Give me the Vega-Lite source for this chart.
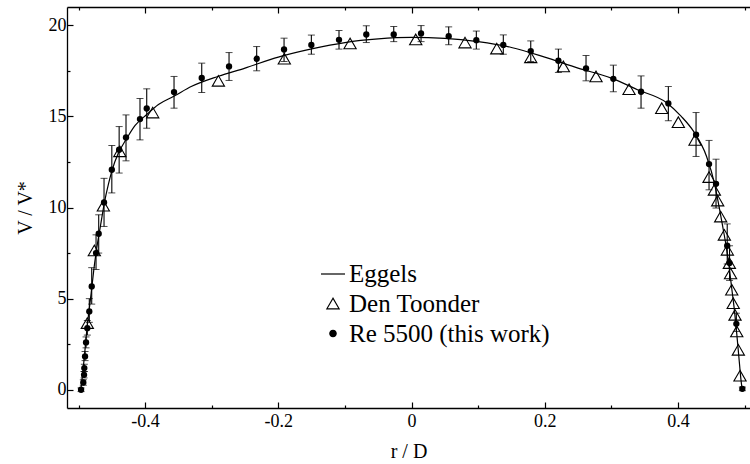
{
  "$schema": "https://vega.github.io/schema/vega-lite/v6.json",
  "width": 683,
  "height": 401,
  "autosize": {"type": "none"},
  "padding": {"left": 67, "top": 7, "right": 0, "bottom": 56},
  "background": "white",
  "config": {
    "view": {"stroke": null},
    "font": "Liberation Serif",
    "axis": {
      "grid": false,
      "domainColor": "black",
      "domainWidth": 1.3,
      "tickColor": "black",
      "tickWidth": 1.2,
      "labelFont": "Liberation Serif",
      "labelFontSize": 18,
      "labelColor": "black",
      "titleFont": "Liberation Serif",
      "titleFontSize": 20,
      "titleFontWeight": "normal",
      "titleColor": "black",
      "labelFlush": false,
      "labelOverlap": false
    }
  },
  "datasets": {
    "eggels": [
      {"r": -0.4965, "v": 0}, {"r": -0.494, "v": 0.8}, {"r": -0.491, "v": 1.9}, {"r": -0.488, "v": 3.1},
      {"r": -0.485, "v": 4.1}, {"r": -0.481, "v": 5.3}, {"r": -0.477, "v": 6.6}, {"r": -0.4725, "v": 7.8},
      {"r": -0.467, "v": 9.0}, {"r": -0.461, "v": 10.3}, {"r": -0.455, "v": 11.3}, {"r": -0.45, "v": 12.0},
      {"r": -0.44, "v": 13.0}, {"r": -0.429, "v": 13.7}, {"r": -0.415, "v": 14.5}, {"r": -0.3976, "v": 15.1},
      {"r": -0.38, "v": 15.65}, {"r": -0.357, "v": 16.1}, {"r": -0.33, "v": 16.65}, {"r": -0.29, "v": 17.2},
      {"r": -0.25, "v": 17.65}, {"r": -0.2, "v": 18.25}, {"r": -0.15, "v": 18.7}, {"r": -0.1, "v": 19.05},
      {"r": -0.05, "v": 19.25}, {"r": 0, "v": 19.33}, {"r": 0.05, "v": 19.28}, {"r": 0.1, "v": 19.1},
      {"r": 0.15, "v": 18.78}, {"r": 0.2, "v": 18.25}, {"r": 0.25, "v": 17.65}, {"r": 0.3, "v": 17.1},
      {"r": 0.34, "v": 16.45}, {"r": 0.383, "v": 15.75}, {"r": 0.405, "v": 15.0}, {"r": 0.423, "v": 14.2},
      {"r": 0.443, "v": 12.8}, {"r": 0.455, "v": 11.3}, {"r": 0.4615, "v": 10.1}, {"r": 0.467, "v": 9.0},
      {"r": 0.4725, "v": 7.85}, {"r": 0.477, "v": 6.7}, {"r": 0.481, "v": 5.5}, {"r": 0.485, "v": 4.3},
      {"r": 0.4885, "v": 3.0}, {"r": 0.4915, "v": 1.8}, {"r": 0.4945, "v": 0.6}, {"r": 0.4965, "v": 0}
    ],
    "toonder": [
      {"series": "Den Toonder", "r": -0.4868, "v": 3.66}, {"series": "Den Toonder", "r": -0.4763, "v": 7.64},
      {"series": "Den Toonder", "r": -0.4627, "v": 10.1}, {"series": "Den Toonder", "r": -0.438, "v": 13.08},
      {"series": "Den Toonder", "r": -0.3886, "v": 15.21}, {"series": "Den Toonder", "r": -0.29, "v": 16.95},
      {"series": "Den Toonder", "r": -0.191, "v": 18.16}, {"series": "Den Toonder", "r": -0.0923, "v": 19.0},
      {"series": "Den Toonder", "r": 0.0063, "v": 19.22}, {"series": "Den Toonder", "r": 0.0803, "v": 19.05},
      {"series": "Den Toonder", "r": 0.128, "v": 18.72}, {"series": "Den Toonder", "r": 0.179, "v": 18.24},
      {"series": "Den Toonder", "r": 0.228, "v": 17.74}, {"series": "Den Toonder", "r": 0.277, "v": 17.19},
      {"series": "Den Toonder", "r": 0.3266, "v": 16.49}, {"series": "Den Toonder", "r": 0.3757, "v": 15.45},
      {"series": "Den Toonder", "r": 0.4006, "v": 14.68}, {"series": "Den Toonder", "r": 0.4257, "v": 13.71},
      {"series": "Den Toonder", "r": 0.4467, "v": 11.67}, {"series": "Den Toonder", "r": 0.4547, "v": 10.97},
      {"series": "Den Toonder", "r": 0.4597, "v": 10.38}, {"series": "Den Toonder", "r": 0.4642, "v": 9.5},
      {"series": "Den Toonder", "r": 0.4697, "v": 8.5}, {"series": "Den Toonder", "r": 0.4742, "v": 7.68},
      {"series": "Den Toonder", "r": 0.4772, "v": 6.95}, {"series": "Den Toonder", "r": 0.479, "v": 6.38},
      {"series": "Den Toonder", "r": 0.4808, "v": 5.49}, {"series": "Den Toonder", "r": 0.483, "v": 4.75},
      {"series": "Den Toonder", "r": 0.4857, "v": 4.11}, {"series": "Den Toonder", "r": 0.4883, "v": 3.2},
      {"series": "Den Toonder", "r": 0.4907, "v": 2.19}, {"series": "Den Toonder", "r": 0.4932, "v": 0.77}
    ],
    "re5500": [
      {"series": "Re 5500 (this work)", "r": -0.4962, "v": 0.0, "lo": -0.1, "hi": 0.1},
      {"series": "Re 5500 (this work)", "r": -0.4928, "v": 0.4, "lo": 0.25, "hi": 0.55},
      {"series": "Re 5500 (this work)", "r": -0.4917, "v": 0.82, "lo": 0.65, "hi": 1.0},
      {"series": "Re 5500 (this work)", "r": -0.4913, "v": 1.19, "lo": 1.0, "hi": 1.4},
      {"series": "Re 5500 (this work)", "r": -0.4902, "v": 1.83, "lo": 1.6, "hi": 2.1},
      {"series": "Re 5500 (this work)", "r": -0.4887, "v": 2.6, "lo": 2.3, "hi": 2.9},
      {"series": "Re 5500 (this work)", "r": -0.4868, "v": 3.38, "lo": 3.0, "hi": 3.8},
      {"series": "Re 5500 (this work)", "r": -0.4838, "v": 4.3, "lo": 3.7, "hi": 5.0},
      {"series": "Re 5500 (this work)", "r": -0.4802, "v": 5.67, "lo": 4.7, "hi": 6.7},
      {"series": "Re 5500 (this work)", "r": -0.4737, "v": 7.5, "lo": 6.6, "hi": 8.5},
      {"series": "Re 5500 (this work)", "r": -0.4697, "v": 8.56, "lo": 7.5, "hi": 9.6},
      {"series": "Re 5500 (this work)", "r": -0.4617, "v": 10.28, "lo": 8.96, "hi": 11.6},
      {"series": "Re 5500 (this work)", "r": -0.45, "v": 12.07, "lo": 10.8, "hi": 13.4},
      {"series": "Re 5500 (this work)", "r": -0.439, "v": 13.17, "lo": 11.89, "hi": 14.44},
      {"series": "Re 5500 (this work)", "r": -0.4287, "v": 13.84, "lo": 12.56, "hi": 15.08},
      {"series": "Re 5500 (this work)", "r": -0.4077, "v": 14.85, "lo": 13.71, "hi": 15.98},
      {"series": "Re 5500 (this work)", "r": -0.3976, "v": 15.43, "lo": 14.35, "hi": 16.51},
      {"series": "Re 5500 (this work)", "r": -0.3566, "v": 16.33, "lo": 15.45, "hi": 17.19},
      {"series": "Re 5500 (this work)", "r": -0.315, "v": 17.11, "lo": 16.31, "hi": 17.92},
      {"series": "Re 5500 (this work)", "r": -0.274, "v": 17.74, "lo": 16.97, "hi": 18.5},
      {"series": "Re 5500 (this work)", "r": -0.2325, "v": 18.16, "lo": 17.5, "hi": 18.83},
      {"series": "Re 5500 (this work)", "r": -0.1914, "v": 18.67, "lo": 18.01, "hi": 19.29},
      {"series": "Re 5500 (this work)", "r": -0.1504, "v": 18.92, "lo": 18.41, "hi": 19.46},
      {"series": "Re 5500 (this work)", "r": -0.1089, "v": 19.2, "lo": 18.69, "hi": 19.71},
      {"series": "Re 5500 (this work)", "r": -0.0679, "v": 19.49, "lo": 19.05, "hi": 19.97},
      {"series": "Re 5500 (this work)", "r": -0.0267, "v": 19.49, "lo": 19.1, "hi": 19.93},
      {"series": "Re 5500 (this work)", "r": 0.0143, "v": 19.55, "lo": 19.1, "hi": 19.98},
      {"series": "Re 5500 (this work)", "r": 0.0558, "v": 19.4, "lo": 18.93, "hi": 19.91},
      {"series": "Re 5500 (this work)", "r": 0.0973, "v": 19.18, "lo": 18.69, "hi": 19.68},
      {"series": "Re 5500 (this work)", "r": 0.1378, "v": 18.92, "lo": 18.41, "hi": 19.47},
      {"series": "Re 5500 (this work)", "r": 0.179, "v": 18.58, "lo": 18.01, "hi": 19.14},
      {"series": "Re 5500 (this work)", "r": 0.2205, "v": 18.05, "lo": 17.41, "hi": 18.69},
      {"series": "Re 5500 (this work)", "r": 0.262, "v": 17.63, "lo": 16.95, "hi": 18.34},
      {"series": "Re 5500 (this work)", "r": 0.303, "v": 17.06, "lo": 16.35, "hi": 17.81},
      {"series": "Re 5500 (this work)", "r": 0.3446, "v": 16.35, "lo": 15.45, "hi": 17.22},
      {"series": "Re 5500 (this work)", "r": 0.3856, "v": 15.71, "lo": 14.76, "hi": 16.64},
      {"series": "Re 5500 (this work)", "r": 0.4272, "v": 13.99, "lo": 12.8, "hi": 15.21},
      {"series": "Re 5500 (this work)", "r": 0.4467, "v": 12.38, "lo": 10.97, "hi": 13.68},
      {"series": "Re 5500 (this work)", "r": 0.4572, "v": 11.3, "lo": 9.97, "hi": 12.65},
      {"series": "Re 5500 (this work)", "r": 0.474, "v": 7.9, "lo": 6.9, "hi": 9.1},
      {"series": "Re 5500 (this work)", "r": 0.4775, "v": 6.95, "lo": 6.0, "hi": 7.9},
      {"series": "Re 5500 (this work)", "r": 0.4877, "v": 3.62, "lo": 3.2, "hi": 4.2},
      {"series": "Re 5500 (this work)", "r": 0.4967, "v": 0.05, "lo": -0.05, "hi": 0.15}
    ]
  },
  "layer": [
    {
      "data": {"name": "eggels"},
      "mark": {"type": "line", "color": "black", "strokeWidth": 1.2, "interpolate": "monotone"},
      "encoding": {
        "x": {
          "field": "r", "type": "quantitative",
          "scale": {"domain": [-0.5173, 0.5082], "nice": false, "zero": false},
          "axis": {
            "orient": "bottom", "title": "r / D",
            "values": [-0.5, -0.4, -0.3, -0.2, -0.1, 0, 0.1, 0.2, 0.3, 0.4, 0.5],
            "labelExpr": "abs(round(datum.value*10)) % 2 == 0 ? toString(round(datum.value*10)/10) : ''",
            "tickSize": {"condition": {"test": "abs(round(datum.value*10)) % 2 == 0", "value": -6}, "value": -3},
            "labelPadding": 10, "titlePadding": 8
          }
        },
        "y": {
          "field": "v", "type": "quantitative",
          "scale": {"domain": [-1, 21], "nice": false, "zero": false},
          "axis": {"title": "V / V*", "values": [0, 2.5, 5, 7.5, 10, 12.5, 15, 17.5, 20], "labelExpr": "datum.value % 5 == 0 ? datum.label : ''", "tickSize": {"condition": {"test": "datum.value % 5 == 0", "value": -6}, "value": -3}, "labelPadding": 7, "titlePadding": 13}
        }
      }
    },
    {
      "data": {"name": "toonder"},
      "mark": {"type": "point", "stroke": "black", "strokeWidth": 1.1, "opacity": 1},
      "encoding": {
        "x": {
          "field": "r", "type": "quantitative",
          "scale": {"domain": [-0.5173, 0.5082], "nice": false, "zero": false},
          "axis": {
            "orient": "top", "title": null, "labels": false,
            "values": [-0.5, -0.4, -0.3, -0.2, -0.1, 0, 0.1, 0.2, 0.3, 0.4, 0.5],
            "tickSize": {"condition": {"test": "abs(round(datum.value*10)) % 2 == 0", "value": -6}, "value": -3}
          }
        },
        "y": {
          "field": "v", "type": "quantitative",
          "scale": {"domain": [-1, 21], "nice": false, "zero": false},
          "axis": {"title": "V / V*", "values": [0, 2.5, 5, 7.5, 10, 12.5, 15, 17.5, 20], "labelExpr": "datum.value % 5 == 0 ? datum.label : ''", "tickSize": {"condition": {"test": "datum.value % 5 == 0", "value": -6}, "value": -3}, "labelPadding": 7, "titlePadding": 13}
        },
        "shape": {
          "field": "series", "type": "nominal",
          "scale": {"domain": ["Eggels", "Den Toonder", "Re 5500 (this work)"], "range": ["stroke", "triangle-up", "circle"]},
          "legend": {
            "title": null, "orient": "none", "legendX": 253, "legendY": 254,
            "labelFont": "Liberation Serif", "labelFontSize": 25, "labelColor": "black", "labelLimit": 400,
            "rowPadding": 4, "padding": 0, "labelOffset": 3,
            "symbolStrokeWidth": 1.2, "symbolStrokeColor": "black"
          }
        },
        "size": {
          "field": "series", "type": "nominal",
          "scale": {"type": "ordinal", "domain": ["Eggels", "Den Toonder", "Re 5500 (this work)"], "range": [576, 150, 40]},
          "legend": {"title": null}
        },
        "fill": {
          "field": "series", "type": "nominal",
          "scale": {"domain": ["Eggels", "Den Toonder", "Re 5500 (this work)"], "range": ["transparent", "transparent", "black"]},
          "legend": {"title": null}
        }
      }
    },
    {
      "data": {"name": "re5500"},
      "mark": {"type": "errorbar", "ticks": {"size": 7, "color": "black"}, "rule": {"color": "black", "strokeWidth": 1.1}},
      "encoding": {
        "x": {"field": "r", "type": "quantitative", "scale": {"domain": [-0.5173, 0.5082], "nice": false, "zero": false}, "axis": null},
        "y": {
          "field": "lo", "type": "quantitative",
          "scale": {"domain": [-1, 21], "nice": false, "zero": false},
          "axis": {"title": "V / V*", "values": [0, 2.5, 5, 7.5, 10, 12.5, 15, 17.5, 20], "labelExpr": "datum.value % 5 == 0 ? datum.label : ''", "tickSize": {"condition": {"test": "datum.value % 5 == 0", "value": -6}, "value": -3}, "labelPadding": 7, "titlePadding": 13}
        },
        "y2": {"field": "hi"}
      }
    },
    {
      "data": {"name": "re5500"},
      "mark": {"type": "point", "filled": true, "shape": "circle", "color": "black", "size": 40, "opacity": 1},
      "encoding": {
        "x": {"field": "r", "type": "quantitative", "scale": {"domain": [-0.5173, 0.5082], "nice": false, "zero": false}, "axis": null},
        "y": {
          "field": "v", "type": "quantitative",
          "scale": {"domain": [-1, 21], "nice": false, "zero": false},
          "axis": {"title": "V / V*", "values": [0, 2.5, 5, 7.5, 10, 12.5, 15, 17.5, 20], "labelExpr": "datum.value % 5 == 0 ? datum.label : ''", "tickSize": {"condition": {"test": "datum.value % 5 == 0", "value": -6}, "value": -3}, "labelPadding": 7, "titlePadding": 13}
        }
      }
    }
  ],
  "resolve": {"axis": {"x": "independent"}}
}
